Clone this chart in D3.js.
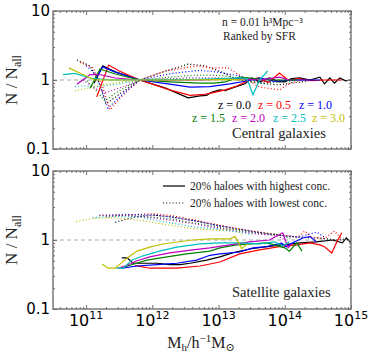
<!DOCTYPE html>
<html lang="en">
<head>
<meta charset="UTF-8">
<title>N / N_all vs halo mass</title>
<script src="https://d3js.org/d3.v7.min.js"></script>
<style>
  html, body { margin: 0; padding: 0; background: #fff; }
</style>
</head>
<body>
<div id="chart"></div>
<script>
// redshift labels and one colour per redshift
const zLabels = ["0.0", "0.5", "1.0", "1.5", "2.0", "2.5", "3.0"];
const zColors = ["#000000", "#ff0000", "#0000ff", "#008000", "#bf00bf", "#00bfbf", "#bfbf00"];

// x = log10(Mh), y = N/Nall ; one series per redshift
// centrals, 20% haloes with highest concentration (solid)
const cenHigh = [
  [[11.12,0.9],[11.25,1.6],[11.44,1.31],[11.81,1.0],[12.19,0.77],[12.54,0.55],[12.72,0.59],[12.82,0.6],[12.9,0.67],[13.02,0.72],[13.1,0.7],[13.21,0.77],[13.4,0.88],[13.5,1.07],[13.62,0.94],[13.77,1.07],[13.9,0.95],[14.0,0.94],[14.1,1.05],[14.23,1.07],[14.38,1.0],[14.53,1.1],[14.6,0.88],[14.68,1.07],[14.75,0.9],[14.83,1.07],[14.92,0.97],[15.0,1.0]],
  [[11.16,0.57],[11.34,1.65],[11.5,1.35],[11.81,1.0],[12.26,0.72],[12.57,0.6],[12.79,0.62],[12.94,0.66],[13.1,0.72],[13.25,0.8],[13.47,1.0],[13.6,1.07],[13.75,0.92],[13.92,1.26],[14.05,1.0],[14.2,1.05],[14.4,0.98],[14.6,1.0],[14.86,1.0]],
  [[11.16,1.1],[11.25,1.55],[11.44,1.3],[11.81,1.0],[12.26,0.87],[12.57,0.79],[12.87,0.8],[13.17,0.88],[13.4,0.96],[13.62,1.07],[13.85,0.96],[14.07,1.0],[14.38,1.0],[14.53,1.0]],
  [[11.06,0.76],[11.21,1.45],[11.44,1.22],[11.81,1.0],[12.26,0.94],[12.72,0.9],[12.94,0.9],[13.1,0.94],[13.32,1.1],[13.55,1.05],[13.77,1.0],[14.07,1.0],[14.2,1.0]],
  [[10.86,0.87],[11.06,1.2],[11.2,1.2],[11.44,1.07],[11.81,1.0],[12.72,1.0],[13.32,1.05],[13.62,1.0],[13.92,1.1],[14.07,1.0]],
  [[10.65,1.2],[10.83,1.25],[11.06,1.07],[11.36,1.0],[12.72,1.02],[13.32,1.07],[13.43,1.05],[13.52,0.61],[13.62,1.0],[13.74,1.35]],
  [[10.74,1.5],[10.91,1.25],[11.13,1.0],[11.5,1.0],[12.5,1.0],[13.2,1.02],[13.4,1.0]]
];
// centrals, lowest concentration (dotted)
const cenLow = [
  [[10.86,1.95],[11.06,1.6],[11.2,0.9],[11.3,0.45],[11.5,0.62],[11.81,1.0],[12.2,1.35],[12.54,1.7],[12.8,1.6],[13.05,1.3],[13.3,1.0],[13.6,0.9],[13.9,0.85],[14.1,0.9],[14.3,0.95],[14.4,1.0]],
  [[10.91,1.8],[11.1,1.5],[11.25,0.8],[11.36,0.37],[11.55,0.6],[11.81,1.0],[12.2,1.35],[12.67,1.6],[12.9,1.5],[13.14,1.5],[13.3,1.2],[13.62,0.79],[13.92,0.72],[14.1,0.92],[14.3,1.0]],
  [[11.0,1.6],[11.15,1.2],[11.33,0.39],[11.55,0.62],[11.81,1.0],[12.3,1.25],[12.72,1.38],[13.0,1.3],[13.3,1.15],[13.6,0.95],[13.9,0.95],[14.2,1.0],[14.3,1.0]],
  [[10.98,1.05],[11.13,0.75],[11.28,0.5],[11.5,0.7],[11.81,1.0],[12.5,1.15],[12.8,1.18],[13.1,1.15],[13.4,1.0],[13.7,0.9],[14.0,0.95],[14.2,1.0]],
  [[10.95,1.0],[11.13,0.75],[11.3,0.66],[11.6,0.82],[11.81,1.0],[12.5,1.07],[13.0,1.07],[13.4,1.0],[13.8,0.95],[14.0,1.0]],
  [[10.83,0.8],[11.0,0.82],[11.2,0.8],[11.5,0.88],[11.81,1.0],[12.5,1.03],[13.0,1.03],[13.4,1.0],[13.7,1.0]],
  [[10.83,0.7],[11.0,0.75],[11.25,0.85],[11.6,0.95],[11.81,1.0],[12.5,1.02],[13.0,1.0],[13.3,1.0]]
];
// satellites, highest concentration (solid)
const satHigh = [
  [[11.54,0.55],[11.62,0.55],[11.71,0.46],[12.07,0.46],[12.26,0.44],[12.42,0.44],[12.57,0.46],[12.82,0.51],[13.02,0.57],[13.21,0.65],[13.47,0.74],[13.73,0.8],[13.97,0.85],[14.23,0.91],[14.48,0.94],[14.72,1.0],[14.87,0.91],[14.93,1.07],[15.0,0.91]],
  [[11.74,0.43],[11.96,0.39],[12.37,0.39],[12.72,0.42],[13.02,0.48],[13.32,0.63],[13.62,0.72],[13.92,0.8],[14.18,0.85],[14.38,0.91],[14.53,0.85],[14.6,0.8],[14.71,0.65],[14.78,0.91],[14.86,1.27]],
  [[11.54,0.39],[11.77,0.42],[12.07,0.44],[12.37,0.46],[12.67,0.51],[12.87,0.6],[13.02,0.63],[13.32,0.67],[13.52,0.77],[13.73,0.8],[13.95,0.9],[14.02,0.8],[14.12,0.91],[14.27,1.07],[14.38,1.12],[14.48,0.94]],
  [[11.51,0.39],[11.66,0.43],[11.92,0.51],[12.22,0.57],[12.52,0.63],[12.87,0.69],[13.02,0.77],[13.27,0.85],[13.73,0.91],[14.0,0.77],[14.07,0.69],[14.18,0.91],[14.26,0.69]],
  [[11.48,0.39],[11.62,0.43],[11.77,0.5],[11.96,0.57],[12.26,0.65],[12.61,0.72],[12.87,0.77],[13.17,0.85],[13.47,0.94],[13.77,1.0],[13.97,1.27],[14.05,0.77],[14.1,0.88]],
  [[11.45,0.39],[11.56,0.39],[11.69,0.51],[11.86,0.59],[12.11,0.69],[12.37,0.79],[12.72,0.88],[13.02,0.91],[13.32,0.91],[13.62,0.88],[13.85,0.94],[13.97,0.82],[14.07,0.94]],
  [[11.24,0.45],[11.33,0.39],[11.44,0.39],[11.62,0.55],[11.77,0.69],[11.96,0.79],[12.16,0.875],[12.37,0.935],[12.61,1.0],[12.87,1.04],[13.17,1.04],[13.25,1.12],[13.35,0.75],[13.43,0.88]]
];
// satellites, lowest concentration (dotted)
const satLow = [
  [[11.44,1.8],[11.6,2.0],[11.8,2.2],[12.0,2.3],[12.3,2.15],[12.7,1.85],[13.0,1.62],[13.3,1.45],[13.6,1.3],[13.9,1.18],[14.2,1.1],[14.5,1.07],[14.8,1.0],[14.95,1.05]],
  [[11.3,2.15],[11.6,2.3],[12.0,2.4],[12.3,2.25],[12.7,1.9],[13.0,1.65],[13.3,1.45],[13.6,1.3],[13.9,1.2],[14.2,1.1],[14.3,1.35],[14.4,1.1],[14.6,1.05],[14.75,1.35],[14.85,1.05]],
  [[11.3,2.25],[11.6,2.35],[12.0,2.3],[12.3,2.15],[12.7,1.85],[13.0,1.6],[13.3,1.42],[13.6,1.27],[13.9,1.17],[14.2,1.1],[14.48,1.3],[14.6,1.1]],
  [[11.2,2.25],[11.5,2.3],[12.0,2.15],[12.3,2.0],[12.7,1.72],[13.0,1.52],[13.3,1.37],[13.6,1.25],[13.9,1.2],[14.1,1.05]],
  [[11.2,2.3],[11.5,2.3],[12.0,2.1],[12.3,1.92],[12.7,1.67],[13.0,1.47],[13.3,1.32],[13.6,1.22],[13.9,1.15],[14.0,1.0]],
  [[11.1,2.1],[11.4,2.2],[11.8,2.15],[12.2,1.82],[12.6,1.57],[13.0,1.42],[13.3,1.3],[13.5,1.2]],
  [[10.85,1.85],[11.1,2.05],[11.4,2.1],[11.8,1.95],[12.2,1.67],[12.6,1.47],[13.0,1.37],[13.3,1.45],[13.35,1.15]]
];

const xMajor = [1e11, 1e12, 1e13, 1e14, 1e15];
const xMajorExp = ["11", "12", "13", "14", "15"];
const yMajor = [0.1, 1, 10];
const yMajorLabels = ["0.1", "1", "10"];

const width = 374, height = 359;
const left = 53, right = 351;
const frameColor = "#707070";
const serif = "'Liberation Serif', 'DejaVu Serif', serif";
const sans = "'DejaVu Sans', sans-serif";

const svg = d3.select("#chart").append("svg")
  .attr("width", width)
  .attr("height", height);

const x = d3.scaleLog().domain([Math.pow(10, 10.5), 1e15]).range([left, right]);

const xMinor = [];
for (let e = 10; e <= 14; e++) {
  for (let k = 2; k <= 9; k++) {
    const v = k * Math.pow(10, e);
    if (v > x.domain()[0] && v < x.domain()[1]) xMinor.push(v);
  }
}
const yMinor = [];
for (let e = -1; e <= 0; e++) {
  for (let k = 2; k <= 9; k++) yMinor.push(k * Math.pow(10, e));
}

function styleAxis(g) {
  g.select(".domain").remove();
  g.selectAll(".tick line").attr("stroke", frameColor).attr("stroke-width", 1);
}

function drawPanel(id, top, bottom, solid, dotted, showX) {
  const y = d3.scaleLog().domain([0.1, 10]).range([bottom, top]);
  const g = svg.append("g");

  g.append("clipPath").attr("id", "clip" + id)
    .append("rect")
    .attr("x", left).attr("y", top)
    .attr("width", right - left).attr("height", bottom - top);

  // reference line at N/Nall = 1
  g.append("line")
    .attr("x1", left).attr("x2", right)
    .attr("y1", y(1)).attr("y2", y(1))
    .attr("stroke", "#aaaaaa")
    .attr("stroke-width", 1)
    .attr("stroke-dasharray", "4,3");

  const line = d3.line()
    .x(d => x(Math.pow(10, d[0])))
    .y(d => y(d[1]));

  const lines = g.append("g").attr("clip-path", `url(#clip${id})`);

  dotted.forEach((s, i) => {
    lines.append("path")
      .datum(s)
      .attr("fill", "none")
      .attr("stroke", zColors[i])
      .attr("stroke-width", 1.2)
      .attr("stroke-dasharray", "1,2.2")
      .attr("d", line);
  });
  solid.forEach((s, i) => {
    lines.append("path")
      .datum(s)
      .attr("fill", "none")
      .attr("stroke", zColors[i])
      .attr("stroke-width", 1.2)
      .attr("d", line);
  });

  // ticks on all four sides, pointing inward
  g.append("g").attr("transform", `translate(0,${bottom})`)
    .call(d3.axisBottom(x).tickValues(xMajor).tickSize(-4).tickFormat(""))
    .call(styleAxis);
  g.append("g").attr("transform", `translate(0,${bottom})`)
    .call(d3.axisBottom(x).tickValues(xMinor).tickSize(-2).tickFormat(""))
    .call(styleAxis);
  g.append("g").attr("transform", `translate(0,${top})`)
    .call(d3.axisTop(x).tickValues(xMajor).tickSize(-4).tickFormat(""))
    .call(styleAxis);
  g.append("g").attr("transform", `translate(0,${top})`)
    .call(d3.axisTop(x).tickValues(xMinor).tickSize(-2).tickFormat(""))
    .call(styleAxis);

  g.append("g").attr("transform", `translate(${left},0)`)
    .call(d3.axisLeft(y).tickValues(yMajor).tickSize(-4).tickPadding(3)
      .tickFormat((d, i) => yMajorLabels[i]))
    .call(styleAxis)
    .call(a => a.selectAll("text")
      .attr("font-family", sans)
      .attr("font-size", 15)
      .attr("fill", "#000"));
  g.append("g").attr("transform", `translate(${left},0)`)
    .call(d3.axisLeft(y).tickValues(yMinor).tickSize(-2).tickFormat(""))
    .call(styleAxis);
  g.append("g").attr("transform", `translate(${right},0)`)
    .call(d3.axisRight(y).tickValues(yMajor).tickSize(-4).tickFormat(""))
    .call(styleAxis);
  g.append("g").attr("transform", `translate(${right},0)`)
    .call(d3.axisRight(y).tickValues(yMinor).tickSize(-2).tickFormat(""))
    .call(styleAxis);

  g.append("rect")
    .attr("x", left).attr("y", top)
    .attr("width", right - left).attr("height", bottom - top)
    .attr("fill", "none")
    .attr("stroke", frameColor)
    .attr("stroke-width", 1.4);

  // y label
  const yl = g.append("text")
    .attr("font-family", serif)
    .attr("fill", "#222")
    .attr("transform", `translate(17,${y(1)}) rotate(-90)`)
    .attr("text-anchor", "middle")
    .attr("font-size", 17);
  yl.append("tspan").text("N / N");
  yl.append("tspan").attr("dy", 4).attr("font-size", 12).text("all");

  if (showX) {
    xMajor.forEach((v, i) => {
      const t = g.append("text")
        .attr("font-family", sans)
        .attr("fill", "#000")
        .attr("x", x(v))
        .attr("y", bottom + 17)
        .attr("text-anchor", "middle")
        .attr("font-size", 16);
      t.append("tspan").text("10");
      t.append("tspan").attr("dy", -7).attr("font-size", 11).text(xMajorExp[i]);
    });
  }
  return y;
}

drawPanel(0, 11, 149, cenHigh, cenLow, false);
drawPanel(1, 171, 309, satHigh, satLow, true);

// x label
const xl = svg.append("text")
  .attr("font-family", serif)
  .attr("fill", "#222")
  .attr("x", 201).attr("y", 348)
  .attr("text-anchor", "middle")
  .attr("font-size", 16);
xl.append("tspan").text("M");
xl.append("tspan").attr("dy", 3).attr("font-size", 11).text("h");
xl.append("tspan").attr("dy", -3).text("/h");
xl.append("tspan").attr("dy", -6).attr("font-size", 11).text("\u22121");
xl.append("tspan").attr("dy", 6).text("M");
xl.append("tspan").attr("dy", 3).attr("font-size", 11).text("\u2299");

// top panel annotations
const ann = svg.append("g")
  .attr("font-family", serif)
  .attr("fill", "#222")
  .attr("font-size", 12);
ann.append("text").attr("x", 222).attr("y", 26).attr("font-size", 11.5).text("n = 0.01 h\u00b3Mpc\u207b\u00b3");
ann.append("text").attr("x", 223).attr("y", 40).attr("font-size", 11.5).text("Ranked by SFR");

const zPos = [[218, 109], [258, 109], [299, 109], [192, 122], [232, 122], [273, 122], [312, 122]];
zLabels.forEach((z, i) => {
  ann.append("text")
    .attr("x", zPos[i][0]).attr("y", zPos[i][1])
    .attr("fill", zColors[i])
    .text("z = " + z);
});
ann.append("text").attr("x", 232).attr("y", 138).attr("font-size", 14.5).text("Central galaxies");

// bottom panel legend and label
const leg = svg.append("g")
  .attr("font-family", serif)
  .attr("fill", "#222")
  .attr("font-size", 11.5);
leg.append("line").attr("x1", 163).attr("x2", 185).attr("y1", 186).attr("y2", 186)
  .attr("stroke", "#000").attr("stroke-width", 1.2);
leg.append("text").attr("x", 190).attr("y", 190).text("20% haloes with highest conc.");
leg.append("line").attr("x1", 163).attr("x2", 185).attr("y1", 203).attr("y2", 203)
  .attr("stroke", "#000").attr("stroke-width", 1.2).attr("stroke-dasharray", "1,2.2");
leg.append("text").attr("x", 190).attr("y", 207).text("20% haloes with lowest conc.");
leg.append("text").attr("x", 232).attr("y", 297).attr("font-size", 14.5).text("Satellite galaxies");
</script>
</body>
</html>
